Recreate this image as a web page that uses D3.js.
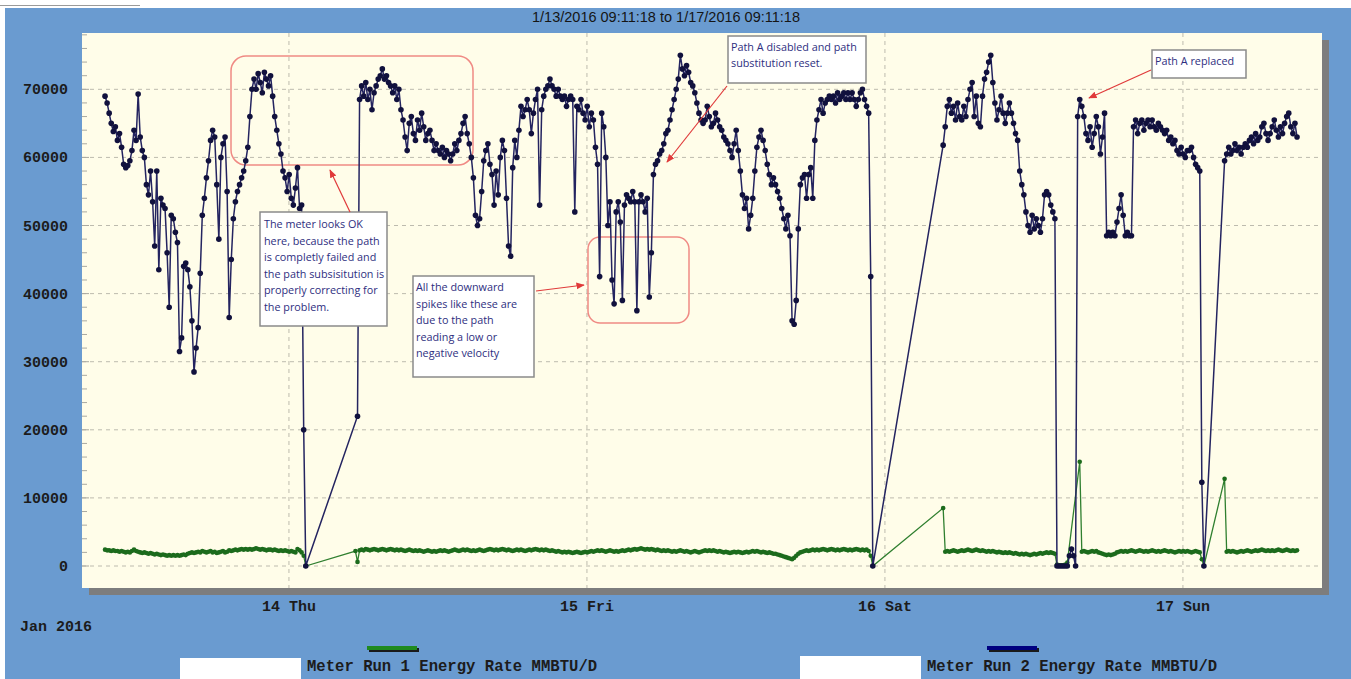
<!DOCTYPE html>
<html><head><meta charset="utf-8">
<script src="https://cdn.jsdelivr.net/npm/d3@7/dist/d3.min.js"></script>
<style>html,body{margin:0;padding:0;background:#fff;overflow:hidden}</style>
</head><body>
<svg id="c" width="1351" height="679"></svg>
<script>
// ---------------- DATA ----------------
const titleText = "1/13/2016 09:11:18 to 1/17/2016 09:11:18";
const startTime = new Date(2016, 0, 13, 9, 11, 18);
const sampleMinutes = 10;
const yTickValues = [0, 10000, 20000, 30000, 40000, 50000, 60000, 70000];
const dayTicks = [new Date(2016,0,14), new Date(2016,0,15), new Date(2016,0,16), new Date(2016,0,17)];
const dayLabels = ["14 Thu", "15 Fri", "16 Sat", "17 Sun"];
const monthLabel = "Jan 2016";
const seriesNames = ["Meter Run 1 Energy Rate MMBTU/D", "Meter Run 2 Energy Rate MMBTU/D"];

// Meter Run 1 (green), one value per 10-minute sample, null = no sample
const run1Values = [
2400,2300,2300,2200,2300,2200,2200,2100,2200,2100,
2000,2100,2000,2200,2400,2200,2100,2000,1900,2000,
1900,1800,1900,1800,1700,1800,1700,1600,1700,1600,
1500,1600,1500,1600,1500,1600,1500,1600,1700,1600,
1800,1900,2000,1900,2000,2100,2000,2200,2100,2000,
2100,2200,2000,2100,1900,2000,2100,2200,2000,2100,
2300,2200,2300,2400,2300,2400,2500,2400,2500,2400,
2500,2400,2500,2600,2500,2400,2500,2400,2300,2400,
2400,2300,2400,2300,2200,2300,2200,2300,2200,2100,
2200,2100,2000,2500,2300,2000,1500,0,
null,null,null,null,null,null,null,null,null,null,
null,null,null,null,null,null,null,null,null,null,
null,null,null,
2200,600,2300,
2400,2300,2500,2400,2300,2400,2500,2400,2300,2400,
2500,2400,2300,2400,2500,2400,2300,2400,2300,2400,
2300,2200,2300,2400,2300,2200,2300,2200,2300,2200,
2100,2200,2300,2200,2100,2200,2100,2200,2300,2200,
2300,2200,2100,2200,2300,2400,2300,2200,2300,2400,
2300,2400,2300,2200,2300,2200,2300,2400,2300,2200,
2300,2400,2500,2400,2300,2400,2300,2400,2500,2400,
2300,2400,2300,2200,2300,2400,2300,2400,2300,2200,
2300,2400,2300,2400,2500,2400,2300,2400,2300,2400,
2300,2200,2300,2200,2100,2200,2100,2000,2100,2000,
2100,2000,1900,2000,2100,2000,1900,2000,2100,2000,
2100,2200,2100,2200,2300,2200,2300,2200,2100,2200,
2300,2200,2100,2200,2100,2200,2300,2200,2300,2400,
2300,2400,2500,2400,2500,2600,2500,2400,2500,2400,
2500,2400,2300,2400,2300,2200,2300,2200,2300,2200,
2100,2200,2100,2200,2300,2200,2100,2200,2100,2000,
2100,2200,2100,2000,2100,2200,2300,2200,2300,2200,
2300,2200,2100,2200,2100,2000,2100,2000,1900,2000,
2100,2000,2100,2000,1900,2000,2100,2000,2100,2200,
2100,2200,2100,2000,2100,2000,1900,2000,1900,1800,
1800,1700,1600,1500,1400,1300,1200,1100,1000,1200,
1500,1800,2000,2100,2200,2300,2200,2300,2400,2300,
2400,2300,2400,2500,2400,2300,2400,2500,2400,2300,
2400,2300,2400,2500,2400,2300,2400,2300,2400,2500,
2400,2300,2400,2300,2400,2200,1500,0,
null,null,null,null,null,null,null,null,null,null,
null,null,null,null,null,null,null,null,null,null,
null,null,null,null,null,null,null,null,null,null,
null,null,null,
8500,
2100,2200,2100,2200,2300,2200,2100,2200,2300,2200,
2300,2400,2300,2200,2300,2400,2300,2200,2300,2200,
2100,2200,2100,2200,2100,2000,2100,2000,1900,2000,
1900,2000,1900,1800,1900,1800,1700,1800,1700,1800,
1700,1600,1700,1800,1700,1800,1900,1800,1900,2000,
1900,2000,1900,1800,
200,100,100,100,200,500,
null,null,null,null,null,
15300,
2100,2200,2100,2000,2100,2200,2100,2200,2000,1900,
1800,1700,1600,1700,1600,1700,1800,2000,2100,2200,
2100,2200,2100,2200,2300,2200,2100,2200,2300,2200,
2100,2200,2100,2200,2300,2200,2100,2200,2100,2200,
2300,2200,2100,2200,2100,2000,2100,2200,2100,2200,
2100,2200,2100,2000,2100,2200,2100,2000,
1000,0,
null,null,null,null,null,null,null,null,null,
12800,
2100,2200,2100,2200,2100,2000,2100,2200,2100,2200,
2300,2200,2100,2200,2300,2200,2300,2400,2300,2200,
2300,2200,2300,2200,2300,2400,2300,2200,2300,2400,
2300,2200,2300,2200,2300
];

// Meter Run 2 (navy), one value per 10-minute sample, null = no sample
const run2Values = [
69000,68000,66500,65000,63800,64500,62500,63500,61500,59000,
58500,58800,59500,61000,64000,62500,69300,63000,61000,60000,
56000,54500,58000,53500,47000,58000,43500,54000,53000,52500,
46000,38000,51500,51000,49000,47500,31500,33500,44000,44500,
43500,41000,36000,28500,32000,35000,43000,51500,54000,57000,
59500,62500,64000,63000,56000,48000,60000,62000,63000,55000,
36500,45000,51000,53500,55000,56000,57000,58000,59500,61500,
66000,70000,71500,70000,72300,71000,69500,72500,71500,70500,
72000,69000,66000,64000,62000,60500,58000,57000,55000,57500,
54000,53000,55500,58500,52500,53000,20000,0,
null,null,null,null,null,null,null,null,null,null,
null,null,null,null,null,null,null,null,null,null,
null,null,null,null,
22000,68500,70500,69000,71000,68500,70000,67000,
69500,70500,71500,72000,73000,71500,72000,71000,70500,69500,
70500,68500,70000,67000,65500,63000,61000,65000,66000,63500,
62500,65500,64000,66500,64500,62500,63500,64000,62500,61000,
62000,61000,60500,61500,60000,61000,60500,59500,60500,62000,
61000,62500,63500,65000,66000,63500,62000,60000,57000,51500,
50000,51000,55000,59500,61000,62000,59000,57500,53000,58000,
54500,60000,62500,61000,54000,47000,45500,58500,62500,60000,
64000,67500,66000,67000,68500,67000,63500,66500,68500,70000,
53000,67000,69000,70000,70500,71500,70500,70000,69000,70000,
69000,68500,69000,67500,68500,69000,68500,52000,67500,67000,
68500,66500,65500,67500,64500,66500,65500,61500,59000,42500,
66500,64500,60000,50000,53500,42000,38500,52000,53500,50500,
39000,53000,54500,54000,53500,55000,53500,37500,53500,54500,
53500,52000,54000,39500,46000,57500,59000,59500,60500,61000,
62000,63500,64000,65500,67000,68500,70000,71500,75000,73000,
72000,73500,72500,71000,70500,69500,68000,66500,65500,65000,
65500,67500,66000,64500,65000,66500,65500,64500,64000,63000,
62500,62000,61000,60000,62000,64000,61000,58000,54500,52500,
54000,49500,51500,54000,58000,61500,63000,64000,62500,61000,
59000,57500,56000,57000,56000,55000,54000,52500,51000,49500,
51500,48500,36000,35500,39000,49500,56000,57000,57500,54000,
57500,58500,54000,62500,65500,67000,68500,66500,68000,68500,
69000,68500,69000,68000,69500,68500,69000,69500,68500,69500,
68500,69500,68500,67500,68500,69500,70000,68500,67500,66500,
42500,0,
null,null,null,null,null,null,null,null,null,null,
null,null,null,null,null,null,null,null,null,null,
null,null,null,null,null,null,null,null,null,null,
null,null,null,
61800,64500,67500,68500,66500,
67500,65500,68000,66000,65500,67500,66000,68500,70000,71000,
66000,69000,65000,64500,69000,71500,72500,74000,75000,71000,
68000,65500,67000,69000,66500,65000,66500,68000,66500,65000,
63500,62500,58000,56000,54500,52000,50000,49000,51500,49500,
51000,50000,49000,51000,54500,55000,54500,53000,52000,51000,
0,0,0,0,0,0,1500,2500,1500,0,
66000,68500,67500,66000,63500,62500,64500,61500,63500,66000,
64500,60500,63000,66500,48500,49000,48500,49000,48500,50500,
52500,54500,51500,48500,49000,48500,48500,64500,65500,63500,
65000,65500,64000,65000,65500,64500,65500,64500,64000,65000,
64500,64000,63500,64000,62500,63000,62000,62500,61000,60500,
61500,60500,60000,61000,61000,61500,60000,59000,58500,58000,
12300,0,
null,null,null,null,null,null,null,null,null,
59500,60500,61500,60500,61000,62000,61000,61500,60500,
61500,62000,61500,62500,63000,62000,63500,62500,63000,64500,
65000,63500,62500,63500,64500,65500,64000,63000,64500,63500,
65000,66000,66500,64500,63500,65000,63000
];

// Annotation texts
const note1Lines = ["The meter looks OK", "here, because the path", "is completly failed and", "the path subsisitution is", "properly correcting for", "the problem."];
const note2Lines = ["All the downward", "spikes like these are", "due to the path", "reading a low or", "negative velocity"];
const note3Lines = ["Path A disabled and path", "substitution reset."];
const note4Lines = ["Path A replaced"];

// ---------------- DRAW ----------------
const svg = d3.select("#c");
const W = 1351, H = 679;
const P = {l: 82, t: 33, r: 1322, b: 588};
const monoFont = "'Liberation Mono','DejaVu Sans Mono',monospace";
const noteFont = "'Comic Sans MS','Open Sans',sans-serif";

const x = d3.scaleTime()
  .domain([new Date(2016,0,13,7,20), new Date(2016,0,17,11,12)])
  .range([P.l, P.r]);
const y = d3.scaleLinear().domain([-3230, 78270]).range([P.b, P.t]);

const times = run2Values.map((v, i) => new Date(startTime.getTime() + i * sampleMinutes * 60000));
const pts1 = run1Values.map((v, i) => ({t: times[i], v})).filter(d => d.v !== null);
const pts2 = run2Values.map((v, i) => ({t: times[i], v})).filter(d => d.v !== null);

// background
svg.append("rect").attr("width", W).attr("height", H).attr("fill", "#ffffff");
svg.append("rect").attr("x", 5).attr("y", 8).attr("width", W - 5).attr("height", H - 8).attr("fill", "#6a9bd0");
svg.append("line").attr("x1", 0).attr("x2", 140).attr("y1", 5.5).attr("y2", 5.5).attr("stroke", "#9a9a9a").attr("stroke-width", 1);

// title
svg.append("text").attr("x", 666).attr("y", 22).attr("text-anchor", "middle")
  .attr("font-family", "'Liberation Sans',Arial,sans-serif").attr("font-size", 14.5).attr("fill", "#151515")
  .text(titleText);

// plot shadow + area
svg.append("rect").attr("x", P.l + 7).attr("y", P.t + 7).attr("width", P.r - P.l).attr("height", P.b - P.t).attr("fill", "#7d7d7d");
svg.append("rect").attr("x", P.l).attr("y", P.t).attr("width", P.r - P.l).attr("height", P.b - P.t).attr("fill", "#fffde9");

const defs = svg.append("defs");
defs.append("clipPath").attr("id", "clip").append("rect")
  .attr("x", P.l).attr("y", P.t).attr("width", P.r - P.l).attr("height", P.b - P.t);
defs.append("marker").attr("id", "arr").attr("viewBox", "0 0 10 10").attr("refX", 9).attr("refY", 5)
  .attr("markerWidth", 7).attr("markerHeight", 7).attr("orient", "auto-start-reverse")
  .append("path").attr("d", "M0,1 L10,5 L0,9 Z").attr("fill", "#e03a3a");

// grid
const grid = svg.append("g");
grid.selectAll("line.h").data(yTickValues).join("line")
  .attr("x1", P.l).attr("x2", P.r).attr("y1", d => y(d)).attr("y2", d => y(d))
  .attr("stroke", "#bdbbae").attr("stroke-width", 1).attr("stroke-dasharray", "4,4");
grid.selectAll("line.v").data(dayTicks).join("line")
  .attr("x1", d => x(d)).attr("x2", d => x(d)).attr("y1", P.t).attr("y2", P.b)
  .attr("stroke", "#bdbbae").attr("stroke-width", 1).attr("stroke-dasharray", "4,4");

// minor ticks on left edge
const minorTicks = d3.range(0, 78001, 2000);
svg.append("g").selectAll("line").data(minorTicks).join("line")
  .attr("x1", P.l).attr("x2", d => P.l + (d % 10000 === 0 ? 7 : 5))
  .attr("y1", d => y(d)).attr("y2", d => y(d))
  .attr("stroke", "#a9a9a0").attr("stroke-width", 1);

// y labels
svg.append("g").selectAll("text").data(yTickValues).join("text")
  .attr("x", 68).attr("y", d => y(d) + 5).attr("text-anchor", "end")
  .attr("font-family", monoFont).attr("font-weight", "bold").attr("font-size", 15).attr("fill", "#1c1c1c")
  .text(d => d);

// x labels
svg.append("g").selectAll("text").data(dayTicks).join("text")
  .attr("x", d => x(d)).attr("y", 611).attr("text-anchor", "middle")
  .attr("font-family", monoFont).attr("font-weight", "bold").attr("font-size", 15).attr("fill", "#1c1c1c")
  .text((d, i) => dayLabels[i]);
svg.append("text").attr("x", 20).attr("y", 631)
  .attr("font-family", monoFont).attr("font-weight", "bold").attr("font-size", 15).attr("fill", "#1c1c1c")
  .text(monthLabel);

// rounded highlight rects (under data)
const hl = svg.append("g").attr("fill", "none").attr("stroke", "#f08a84").attr("stroke-width", 1.5);
hl.append("rect").attr("x", 231).attr("y", 56).attr("width", 242).attr("height", 109).attr("rx", 15);
hl.append("rect").attr("x", 588).attr("y", 237).attr("width", 101).attr("height", 86).attr("rx", 12);

// series
const line = d3.line().x(d => x(d.t)).y(d => y(d.v));
const data = svg.append("g").attr("clip-path", "url(#clip)");
data.append("path").datum(pts1).attr("d", line).attr("fill", "none").attr("stroke", "#2f7f2f").attr("stroke-width", 1.3);
data.append("g").selectAll("circle").data(pts1).join("circle")
  .attr("cx", d => x(d.t)).attr("cy", d => y(d.v)).attr("r", 2.3).attr("fill", "#1c6b1c");
data.append("path").datum(pts2).attr("d", line).attr("fill", "none").attr("stroke", "#242460").attr("stroke-width", 1.5);
data.append("g").selectAll("circle").data(pts2).join("circle")
  .attr("cx", d => x(d.t)).attr("cy", d => y(d.v)).attr("r", 2.8).attr("fill", "#11113d");

// annotations
function note(bx, by, bw, bh, lines, tx, ty, lh) {
  const g = svg.append("g");
  g.append("rect").attr("x", bx).attr("y", by).attr("width", bw).attr("height", bh)
    .attr("fill", "#ffffff").attr("stroke", "#8a8a8a").attr("stroke-width", 1.5);
  g.selectAll("text").data(lines).join("text")
    .attr("x", tx).attr("y", (d, i) => ty + i * lh)
    .attr("font-family", noteFont).attr("font-size", 10.8).attr("fill", "#2e2e80")
    .text(d => d);
}
function arrow(x1, y1, x2, y2) {
  svg.append("line").attr("x1", x1).attr("y1", y1).attr("x2", x2).attr("y2", y2)
    .attr("stroke", "#e03a3a").attr("stroke-width", 1.2).attr("marker-end", "url(#arr)");
}
note(260, 212, 127, 114, note1Lines, 264, 228, 16.6);
arrow(350, 212, 330, 170);
note(413, 276, 121, 101, note2Lines, 416, 291, 16.5);
arrow(536, 291, 584, 285);
note(728, 36, 138, 47, note3Lines, 731, 51, 16);
arrow(727, 86, 667, 162);
note(1152, 50, 94, 28, note4Lines, 1155, 65, 16);
arrow(1151, 70, 1089, 98);

// legend
const leg = svg.append("g");
leg.append("rect").attr("x", 180).attr("y", 658).attr("width", 121).attr("height", 21).attr("fill", "#ffffff");
leg.append("rect").attr("x", 800).attr("y", 656).attr("width", 121).attr("height", 23).attr("fill", "#ffffff");
leg.append("rect").attr("x", 369).attr("y", 648).attr("width", 50).attr("height", 4).attr("fill", "#1a1a1a");
leg.append("rect").attr("x", 367).attr("y", 646).attr("width", 50).attr("height", 4).attr("fill", "#1f8a1f");
leg.append("rect").attr("x", 989).attr("y", 648).attr("width", 50).attr("height", 4).attr("fill", "#1a1a1a");
leg.append("rect").attr("x", 987).attr("y", 646).attr("width", 50).attr("height", 4).attr("fill", "#000080");
leg.append("text").attr("x", 307).attr("y", 671)
  .attr("font-family", monoFont).attr("font-weight", "bold").attr("font-size", 15.6).attr("fill", "#1c1c1c")
  .text(seriesNames[0]);
leg.append("text").attr("x", 927).attr("y", 671)
  .attr("font-family", monoFont).attr("font-weight", "bold").attr("font-size", 15.6).attr("fill", "#1c1c1c")
  .text(seriesNames[1]);
</script>
</body></html>
